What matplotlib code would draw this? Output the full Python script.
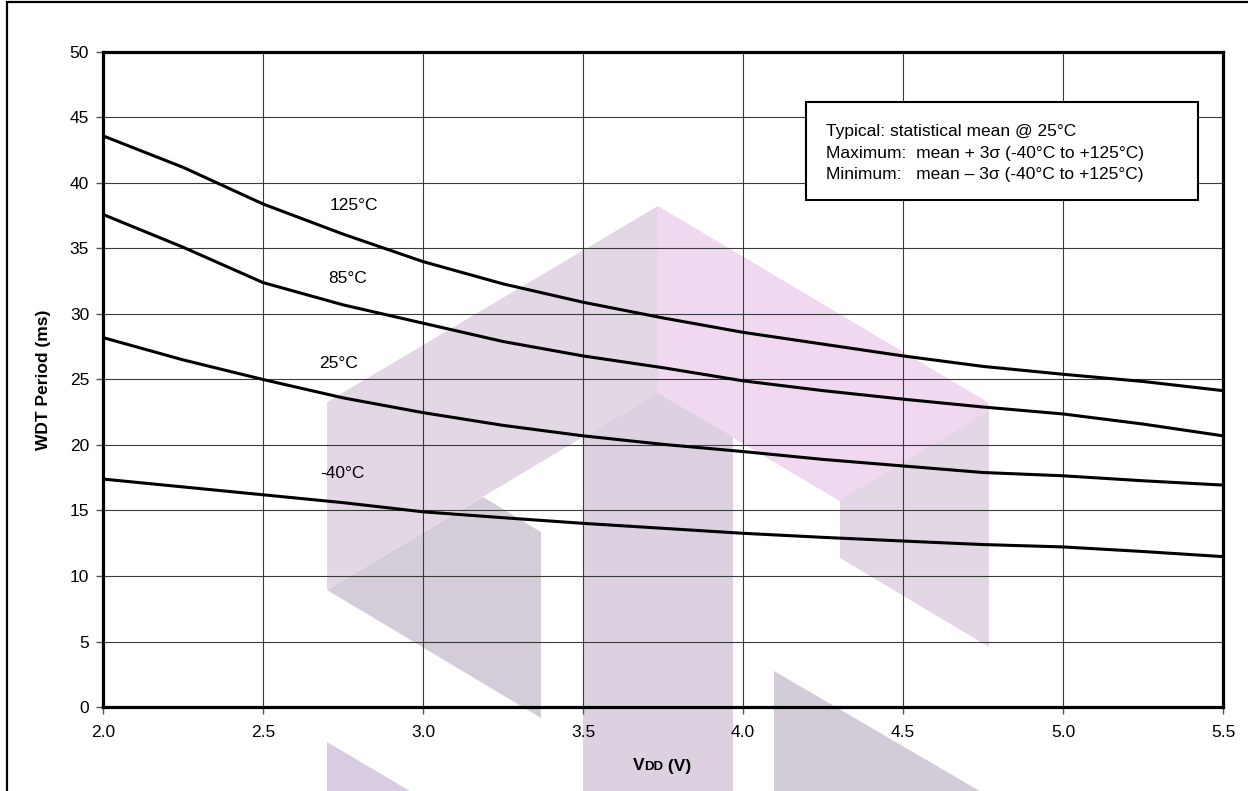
import matplotlib
matplotlib.use('Agg')
import matplotlib.pyplot as plt
import matplotlib.patches as patches
from matplotlib.ticker import FormatStrFormatter
from matplotlib.offsetbox import TextArea, HPacker, AnnotationBbox

plt.rcParams['font.family'] = ['Liberation Sans', 'DejaVu Sans']

W, H = 1248, 791
FS = 12.5

# data
vdd = [2.0, 2.25, 2.5, 2.75, 3.0, 3.25, 3.5, 3.75, 4.0, 4.25, 4.5, 4.75, 5.0, 5.25, 5.5]
wdt_125 = [43.6, 41.2, 38.4, 36.1, 34.0, 32.3, 30.9, 29.7, 28.6, 27.7, 26.8, 26.0, 25.4, 24.85, 24.15]
wdt_85 = [37.6, 35.1, 32.4, 30.7, 29.3, 27.9, 26.8, 25.9, 24.9, 24.15, 23.5, 22.9, 22.37, 21.6, 20.7]
wdt_25 = [28.2, 26.5, 25.0, 23.6, 22.47, 21.5, 20.7, 20.05, 19.5, 18.9, 18.4, 17.9, 17.65, 17.27, 16.94]
wdt_m40 = [17.4, 16.8, 16.2, 15.6, 14.9, 14.45, 14.02, 13.64, 13.26, 12.95, 12.67, 12.4, 12.22, 11.87, 11.48]

series = [wdt_125, wdt_85, wdt_25, wdt_m40]
curve_labels = ['125°C', '85°C', '25°C', '-40°C']
label_pos = [(2.783, 38.3), (2.766, 32.7), (2.736, 26.2), (2.747, 17.8)]

xticks = [2.0, 2.5, 3.0, 3.5, 4.0, 4.5, 5.0, 5.5]
yticks = [0, 5, 10, 15, 20, 25, 30, 35, 40, 45, 50]

note_lines = ['Typical: statistical mean @ 25°C',
              'Maximum:  mean + 3σ (-40°C to +125°C)',
              'Minimum:   mean – 3σ (-40°C to +125°C)']


def px(x, y):
    # figure pixel -> figure fraction
    return (x / W, 1 - y / H)


fig = plt.figure(figsize=(W / 100, H / 100), dpi=100)
ax = fig.add_axes([103 / W, 1 - 707 / H, 1120 / W, 655 / H])
ax.set_facecolor('none')

# watermark logo behind the plot
logo = [
    ([(327, 402), (658, 206), (658, 393), (583, 437), (327, 590)], '#e3d7e6'),
    ([(327, 590), (483, 497), (541, 532), (541, 718)], '#d5ccd9'),
    ([(658, 206), (989, 403), (989, 590), (658, 393)], '#f0d9f0'),
    ([(583, 437), (658, 393), (733, 437), (733, 800), (583, 800)], '#ddd1e1'),
    ([(840, 500), (989, 411), (989, 647), (840, 558)], '#e3d7e6'),
    ([(774, 671), (995, 800), (774, 800)], '#d3cbd8'),
    ([(327, 742), (425, 800), (327, 800)], '#d8cce2'),
]
for pts, col in logo:
    fig.add_artist(patches.Polygon([px(*p) for p in pts], closed=True,
                                   transform=fig.transFigure, fc=col, ec='none', zorder=-1))

for vals in series:
    ax.plot(vdd, vals, color='black', lw=2.2, solid_capstyle='butt', zorder=3)

for lab, (lx, ly) in zip(curve_labels, label_pos):
    ax.text(lx, ly, lab, fontsize=FS, ha='center', va='center', zorder=4)

ax.set_xlim(2.0, 5.5)
ax.set_ylim(0, 50)
ax.set_xticks(xticks)
ax.set_yticks(yticks)
ax.xaxis.set_major_formatter(FormatStrFormatter('%.1f'))
ax.grid(True, color='#3a3a3a', lw=0.8)
ax.set_axisbelow(True)
ax.tick_params(axis='both', direction='out', length=5, width=1, labelsize=FS, color='#555555')
ax.tick_params(axis='x', pad=8)
ax.tick_params(axis='y', pad=5)
for s in ax.spines.values():
    s.set_linewidth(2.3)
    s.set_color('black')

ax.set_ylabel('WDT Period (ms)', fontsize=FS, fontweight='bold')
ax.yaxis.set_label_coords((51 - 103) / 1120, 0.5)

# x label with small "DD"
parts = [TextArea('V', textprops=dict(fontsize=FS, fontweight='bold')),
         TextArea('DD', textprops=dict(fontsize=9.5, fontweight='bold')),
         TextArea(' (V)', textprops=dict(fontsize=FS, fontweight='bold'))]
xl = HPacker(children=parts, align='baseline', pad=0, sep=0)
fig.add_artist(AnnotationBbox(xl, px(662, 766), xycoords='figure fraction',
                              frameon=False, box_alignment=(0.5, 0.5)))

# note box
x0, y0 = px(806, 200)
x1, y1 = px(1198, 102)
fig.add_artist(patches.Rectangle((x0, y0), x1 - x0, y1 - y0, transform=fig.transFigure,
                                 fc='white', ec='black', lw=1.5, zorder=3))
for i, line in enumerate(note_lines):
    fig.text(826 / W, 1 - (131.5 + 21.7 * i) / H, line, fontsize=FS, va='center', ha='left', zorder=4)

# outer frame
fig.add_artist(patches.Rectangle((7 / W, -0.1), 1.2, 1.1 - 2 / H, transform=fig.transFigure,
                                 fc='none', ec='black', lw=1.6, zorder=5))

fig.savefig('out.png', dpi=100)
